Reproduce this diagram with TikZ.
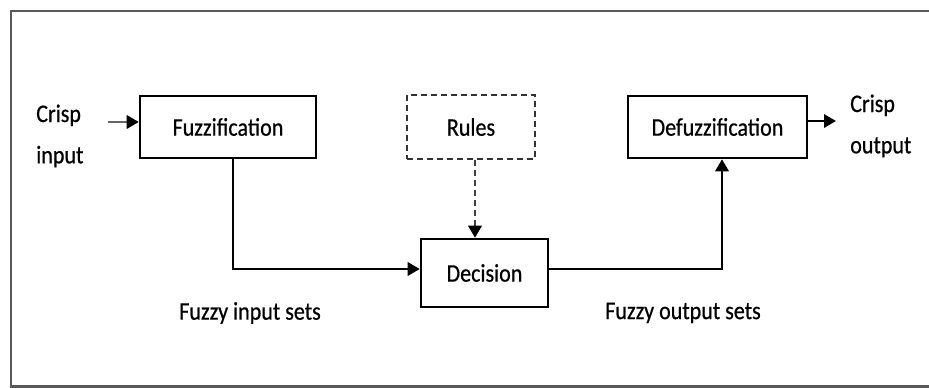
\documentclass[tikz,border=0pt]{standalone}
\usepackage{fontspec}
\setmainfont{Carlito}[FakeStretch=0.87,FakeBold=0.6]
\usetikzlibrary{arrows.meta}
\begin{document}
\begin{tikzpicture}[x=0.75pt,y=-0.75pt,
  block/.style={draw=black,line width=1.9pt,minimum width=#1,inner sep=0pt},
  lbl/.style={font=\fontsize{19}{31}\selectfont,text=black},
  link/.style={line width=1.8pt,-{Triangle[length=9pt,width=10pt,color=black]}},
  frame/.style={draw=black!65,line width=1.8pt}]
\useasboundingbox (0,0) rectangle (929,388);
% outer frame, open on the right
\draw[frame] (929,11) -- (11,11) -- (11,386.5) -- (929,386.5);

% blocks
\node[block=176*0.75pt,minimum height=62*0.75pt,lbl] (fuzz) at (228,127) {Fuzzification};
\node[block=128*0.75pt,minimum height=64*0.75pt,lbl,draw=black!80,dashed,dash pattern=on 4.5pt off 3pt] (rules) at (471,127) {Rules};
\node[block=127*0.75pt,minimum height=68*0.75pt,lbl] (dec) at (484.5,273) {Decision};
\node[block=179*0.75pt,minimum height=62*0.75pt,lbl] (defuzz) at (717.5,127) {Defuzzification};

% side labels
\node[lbl,align=left,anchor=west,inner sep=0pt] (cin) at (36,136) {Crisp\\input};
\node[lbl,align=left,anchor=west,inner sep=0pt] (cout) at (850,126) {Crisp\\output};
\node[lbl,anchor=west,inner sep=0pt] (fin) at (179,313) {Fuzzy input sets};
\node[lbl,anchor=west,inner sep=0pt] (fout) at (605,313) {Fuzzy output sets};

% connectors
\coordinate (inStart) at (108,122);
\coordinate (outEnd) at (836,121);
\coordinate (k1) at (233,269);
\coordinate (k2) at (722,269);
\coordinate (k3) at (475,0);
\draw[link,draw=black!60] (inStart) -- (fuzz.west |- inStart);
\draw[link] (defuzz.east |- outEnd) -- (outEnd);
\draw[link] (fuzz.south -| k1) |- (dec.west |- k1);
\draw[link] (dec.east |- k2) -| (defuzz.south -| k2);
\draw[link,draw=black!75,dash pattern=on 4.5pt off 3pt] (rules.south -| k3) -- (dec.north -| k3);
\end{tikzpicture}
\end{document}
